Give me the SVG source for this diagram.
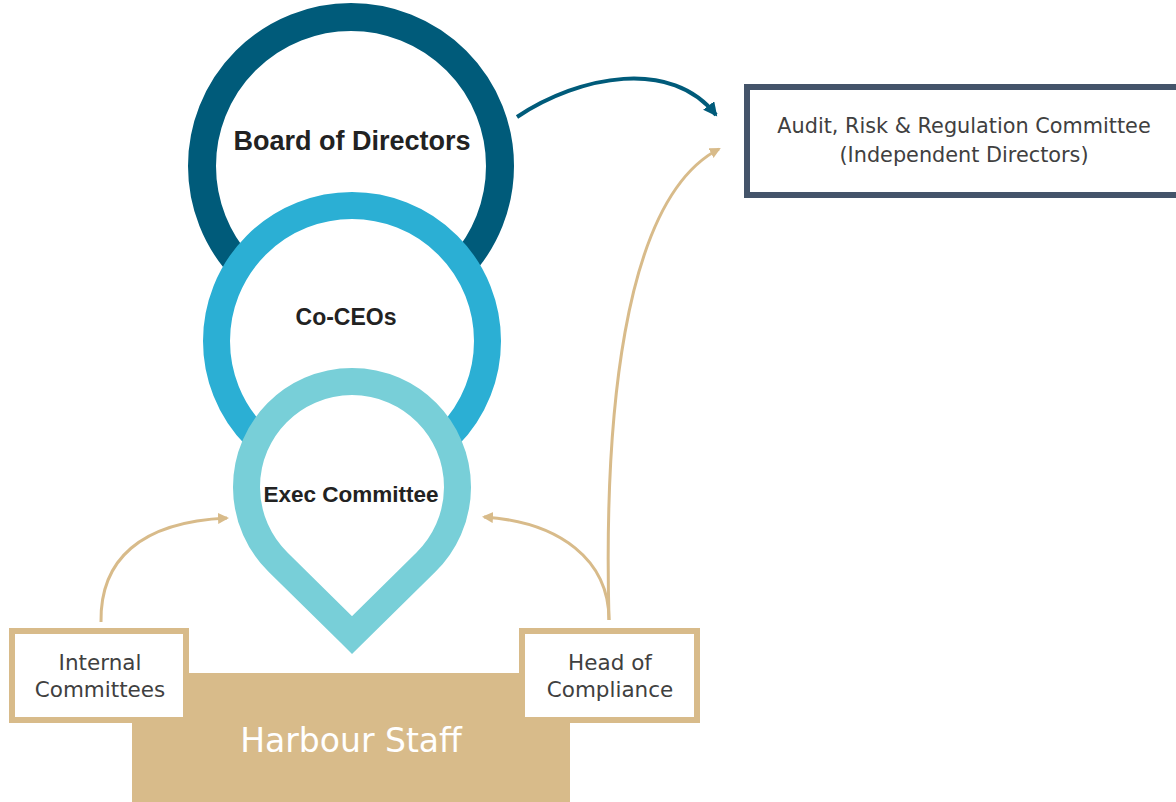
<svg xmlns="http://www.w3.org/2000/svg" width="1176" height="802" viewBox="0 0 1176 802">
  <style>
    .title { font-family: "Liberation Sans", Arial, sans-serif; font-weight: bold; fill: #222222; text-anchor: middle; }
    .label { font-family: "DejaVu Sans", "Liberation Sans", sans-serif; fill: #404040; text-anchor: middle; }
    .tanbox { fill: #ffffff; stroke: #d8bb8a; stroke-width: 6; }
    .tanline { fill: none; stroke: #d8bb8a; stroke-width: 3; }
    .blueline { fill: none; stroke: #005b7a; stroke-width: 4; }
  </style>
  <defs>
    <marker id="arrBlue" markerUnits="userSpaceOnUse" markerWidth="16" markerHeight="16" refX="12" refY="7" orient="auto">
      <path d="M0,0 L14,7 L0,14 z" fill="#005b7a"/>
    </marker>
    <marker id="arrTan" markerUnits="userSpaceOnUse" markerWidth="14" markerHeight="14" refX="9" refY="5.5" orient="auto">
      <path d="M0,0 L11,5.5 L0,11 z" fill="#d8bb8a"/>
    </marker>
  </defs>
  <rect width="1176" height="802" fill="#ffffff"/>

  <g id="harbour-staff">
    <rect x="132" y="673" width="438" height="129" fill="#d8bb8a"/>
    <text x="351" y="752" font-family="DejaVu Sans, Liberation Sans, sans-serif" font-size="33" fill="#ffffff" text-anchor="middle">Harbour Staff</text>
  </g>

  <g id="board">
    <circle cx="351" cy="166" r="149" fill="#ffffff" stroke="#005b7a" stroke-width="28"/>
  </g>
  <g id="co-ceos">
    <circle cx="352" cy="341" r="135.5" fill="#ffffff" stroke="#2bafd4" stroke-width="27"/>
    <text class="title" x="346" y="325" font-size="23">Co-CEOs</text>
  </g>
  <g id="board-label">
    <text class="title" x="352" y="150" font-size="27">Board of Directors</text>
  </g>
  <g id="exec-committee">
    <path d="M352 635 L278 562.2 A105.5 105.5 0 1 1 426 562.2 Z" fill="#ffffff" stroke="#78cfd8" stroke-width="27" stroke-linejoin="miter" stroke-miterlimit="10"/>
    <text class="title" x="351" y="502" font-size="22.5">Exec Committee</text>
  </g>

  <g id="internal-committees">
    <rect class="tanbox" x="12" y="631" width="174" height="89"/>
    <text class="label" x="100" y="670" font-size="21.5">Internal</text>
    <text class="label" x="100" y="697" font-size="21.5">Committees</text>
  </g>
  <g id="head-of-compliance">
    <rect class="tanbox" x="522" y="631" width="175" height="89"/>
    <text class="label" x="610" y="670" font-size="21.5">Head of</text>
    <text class="label" x="610" y="697" font-size="21.5">Compliance</text>
  </g>

  <g id="audit-committee">
    <rect x="747" y="87" width="440" height="108" fill="#ffffff" stroke="#44546a" stroke-width="6"/>
    <text class="label" x="964" y="133" font-size="20.8">Audit, Risk &amp; Regulation Committee</text>
    <text class="label" x="964" y="162" font-size="20.8">(Independent Directors)</text>
  </g>

  <g id="connectors">
    <path class="blueline" d="M517 117 C580 75 672 58 716 115" marker-end="url(#arrBlue)"/>
    <path class="tanline" d="M101 622 C100 560 140 522 227 518" marker-end="url(#arrTan)"/>
    <path class="tanline" d="M609 620 C609 560 560 522 484 517" marker-end="url(#arrTan)"/>
    <path class="tanline" d="M609 620 C604 430 620 200 719 149" marker-end="url(#arrTan)"/>
  </g>
</svg>
